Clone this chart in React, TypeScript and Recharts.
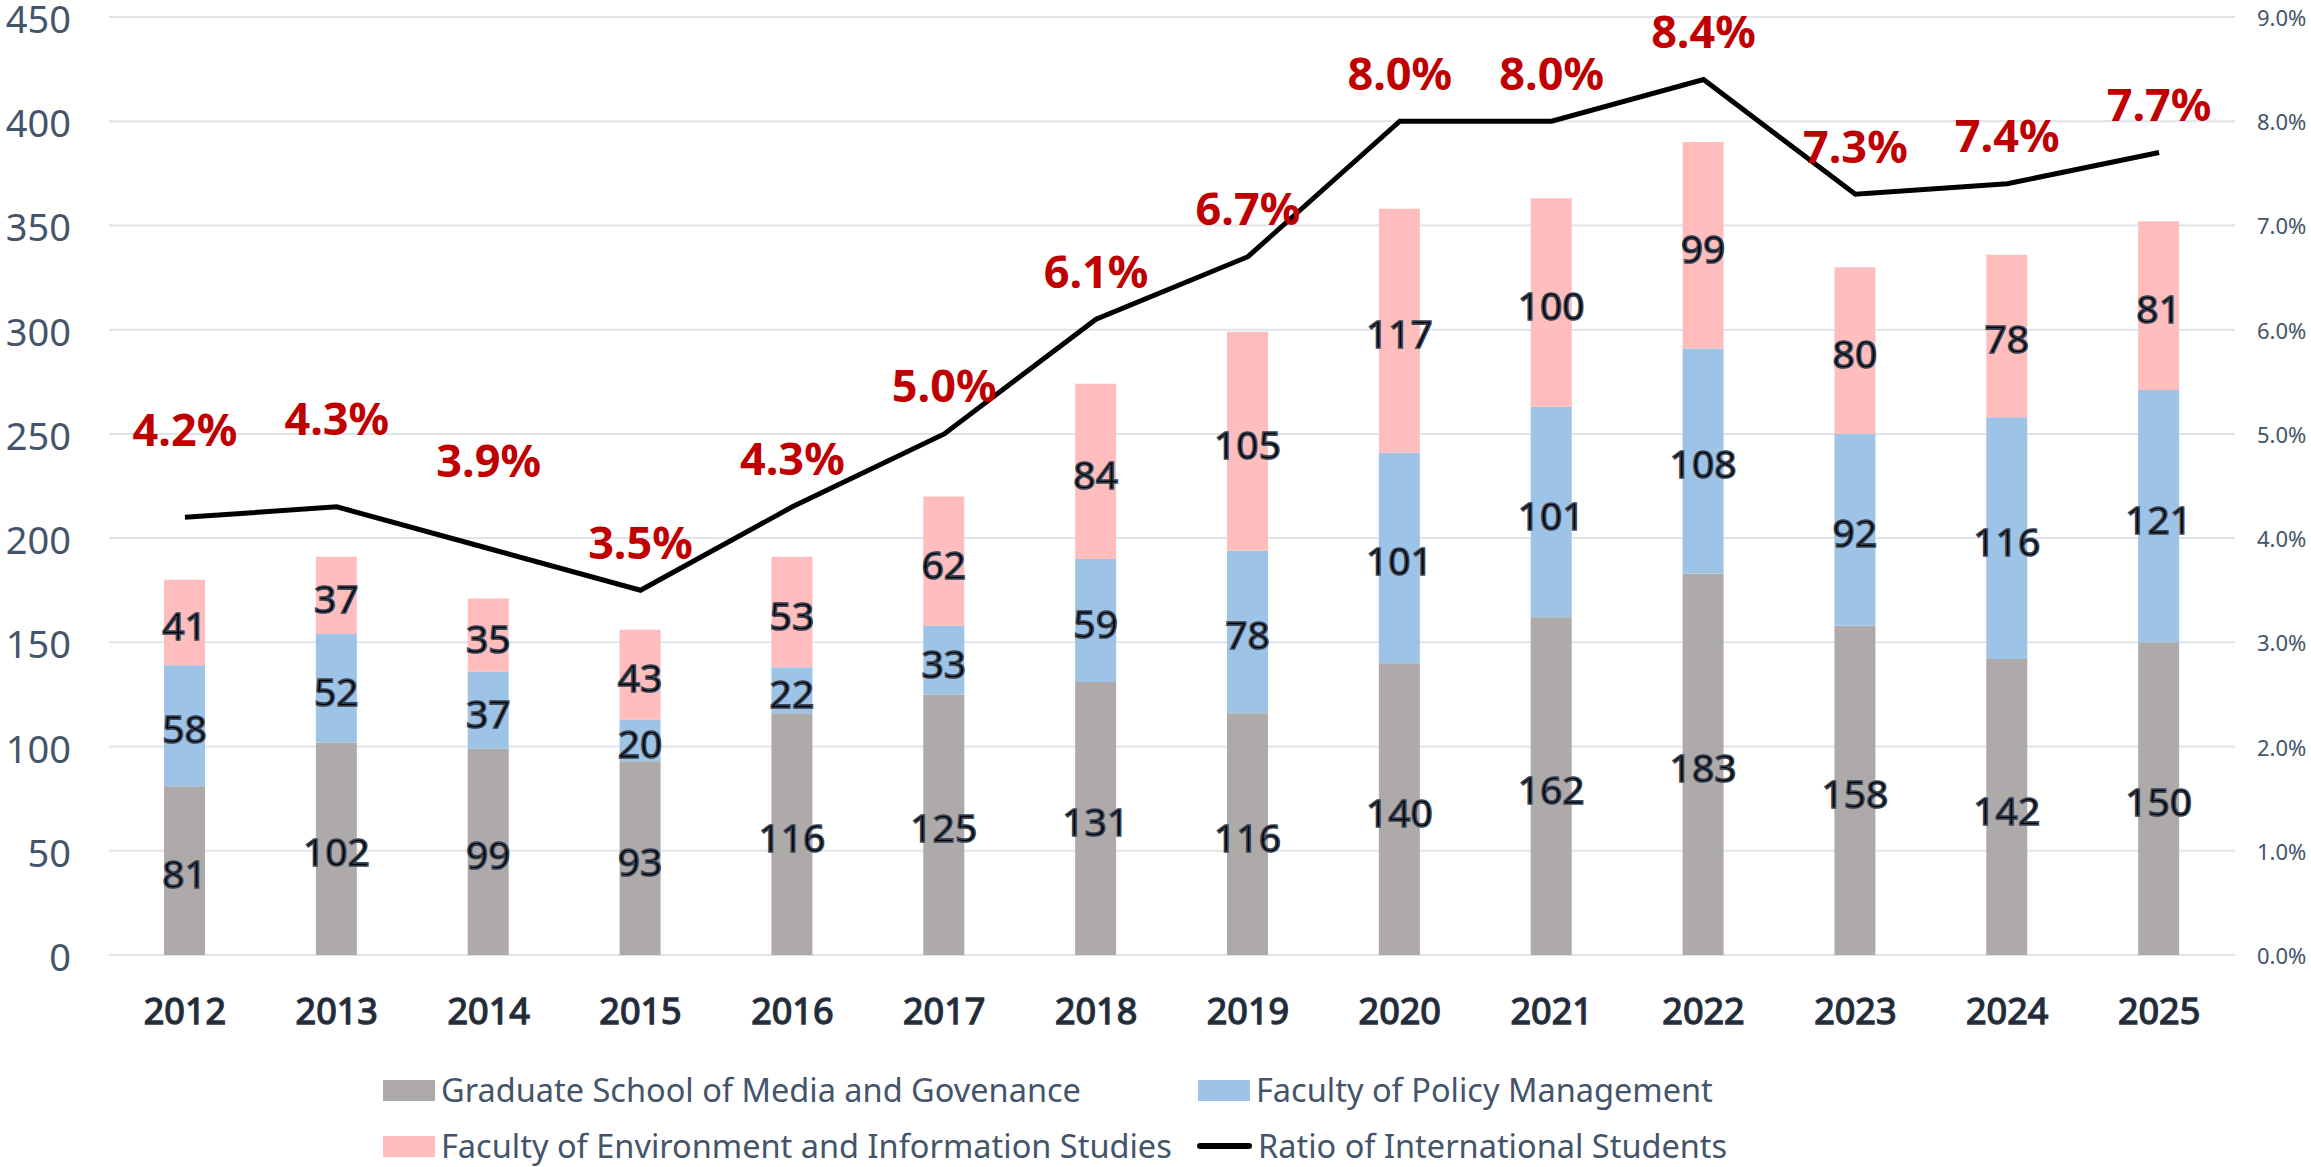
import React from 'react';
import { ComposedChart, Bar, Line, XAxis, YAxis, CartesianGrid, Legend, LabelList } from 'recharts';

const years = ['2012', '2013', '2014', '2015', '2016', '2017', '2018', '2019', '2020', '2021', '2022', '2023', '2024', '2025'];
const mediaGovernance = [81, 102, 99, 93, 116, 125, 131, 116, 140, 162, 183, 158, 142, 150];
const policyManagement = [58, 52, 37, 20, 22, 33, 59, 78, 101, 101, 108, 92, 116, 121];
const envInfoStudies = [41, 37, 35, 43, 53, 62, 84, 105, 117, 100, 99, 80, 78, 81];
const intlRatio = [4.2, 4.3, 3.9, 3.5, 4.3, 5.0, 6.1, 6.7, 8.0, 8.0, 8.4, 7.3, 7.4, 7.7];
const leftTicks = [0, 50, 100, 150, 200, 250, 300, 350, 400, 450];
const rightTicks = [0, 1, 2, 3, 4, 5, 6, 7, 8, 9];

const names = {
  media: 'Graduate School of Media and Govenance',
  policy: 'Faculty of Policy Management',
  env: 'Faculty of Environment and Information Studies',
  ratio: 'Ratio of International Students',
};
const colors = {
  media: '#AEAAAA',
  policy: '#9DC3E6',
  env: '#FFBDBD',
  ratio: '#000000',
};

const data = years.map((y, i) => ({
  year: y,
  media: mediaGovernance[i],
  policy: policyManagement[i],
  env: envInfoStudies[i],
  ratio: intlRatio[i],
}));

const FONT = '"Noto Sans", "Open Sans", sans-serif';
const AXIS_COLOR = '#44546A';

const SegmentLabel = (props: any) => {
  const { x, y, width, height, value } = props;
  return (
    <text
      x={x + width / 2}
      y={y + height / 2 + 2}
      textAnchor="middle"
      dominantBaseline="central"
      fontFamily={FONT}
      fontSize={39}
      fill="#000"
      stroke="#3B4658"
      strokeWidth={1.6}
    >
      {value}
    </text>
  );
};

const RatioLabel = (props: any) => {
  const { x, y, value, index } = props;
  const lift = index < 3 ? 89 : 49;
  return (
    <text
      x={x}
      y={y - lift}
      textAnchor="middle"
      dominantBaseline="central"
      fontFamily={FONT}
      fontWeight="bold"
      fontSize={45}
      fill="#C00000"
    >
      {Number(value).toFixed(1)}%
    </text>
  );
};

const XTick = (props: any) => {
  const { x, y, payload } = props;
  return (
    <text
      x={x}
      y={y + 55}
      textAnchor="middle"
      dominantBaseline="central"
      fontFamily={FONT}
      fontSize={36}
      fill="#1F2733"
      stroke="#2B3442"
      strokeWidth={1.4}
    >
      {payload.value}
    </text>
  );
};

const LeftTick = (props: any) => {
  const { y, payload } = props;
  return (
    <text x={71} y={y + 1} textAnchor="end" dominantBaseline="central" fontFamily={FONT} fontSize={38} fill={AXIS_COLOR}>
      {payload.value}
    </text>
  );
};

const RightTick = (props: any) => {
  const { y, payload } = props;
  return (
    <text x={2257} y={y} textAnchor="start" dominantBaseline="central" fontFamily={FONT} fontSize={22} fill={AXIS_COLOR}>
      {Number(payload.value).toFixed(1)}%
    </text>
  );
};

const legendItems = [
  { key: 'media', kind: 'rect', left: 383, top: 30 },
  { key: 'policy', kind: 'rect', left: 1198, top: 30 },
  { key: 'env', kind: 'rect', left: 383, top: 86 },
  { key: 'ratio', kind: 'line', left: 1197, top: 86 },
] as const;

const LegendContent = () => (
  <div style={{ position: 'relative', width: 2311, height: 107 }}>
    {legendItems.map((it) => (
      <div
        key={it.key}
        style={{
          position: 'absolute',
          left: it.left,
          top: it.top - 22,
          height: 44,
          display: 'flex',
          alignItems: 'center',
          whiteSpace: 'nowrap',
        }}
      >
        {it.kind === 'rect' ? (
          <div style={{ width: 52, height: 21, background: (colors as any)[it.key] }} />
        ) : (
          <div style={{ width: 55, height: 6, borderRadius: 3, background: '#000' }} />
        )}
        <span
          style={{
            marginLeft: 6,
            fontFamily: FONT,
            fontSize: 32.5,
            color: AXIS_COLOR,
            lineHeight: '44px',
          }}
        >
          {(names as any)[it.key]}
        </span>
      </div>
    ))}
  </div>
);

export default function App() {
  return (
    <div style={{ position: 'absolute', left: 0, top: 0, width: 2311, height: 1167, background: '#fff' }}>
      <ComposedChart
        width={2311}
        height={1167}
        data={data}
        margin={{ top: 17, right: 0, left: 0, bottom: 100 }}
        barSize={41}
      >
        <CartesianGrid yAxisId="left" vertical={false} stroke="#DFE3EA" strokeWidth={2} />
        <XAxis
          dataKey="year"
          height={112}
          tickLine={false}
          axisLine={false}
          tickSize={0}
          tickMargin={0}
          interval={0}
          tick={<XTick />}
        />
        <YAxis
          yAxisId="left"
          orientation="left"
          width={109}
          domain={[0, 450]}
          ticks={leftTicks}
          tickLine={false}
          axisLine={false}
          tick={<LeftTick />}
        />
        <YAxis
          yAxisId="right"
          orientation="right"
          width={76}
          domain={[0, 9]}
          ticks={rightTicks}
          tickLine={false}
          axisLine={false}
          tick={<RightTick />}
        />
        <Bar yAxisId="left" dataKey="media" name={names.media} stackId="s" fill={colors.media} isAnimationActive={false}>
          <LabelList dataKey="media" content={<SegmentLabel />} />
        </Bar>
        <Bar yAxisId="left" dataKey="policy" name={names.policy} stackId="s" fill={colors.policy} isAnimationActive={false}>
          <LabelList dataKey="policy" content={<SegmentLabel />} />
        </Bar>
        <Bar yAxisId="left" dataKey="env" name={names.env} stackId="s" fill={colors.env} isAnimationActive={false}>
          <LabelList dataKey="env" content={<SegmentLabel />} />
        </Bar>
        <Line
          yAxisId="right"
          dataKey="ratio"
          name={names.ratio}
          type="linear"
          stroke={colors.ratio}
          strokeWidth={5}
          dot={false}
          activeDot={false}
          isAnimationActive={false}
        >
          <LabelList dataKey="ratio" content={<RatioLabel />} />
        </Line>
        <Legend
          layout="horizontal"
          verticalAlign="middle"
          align="center"
          wrapperStyle={{ top: 1060, left: 0, width: 2311, height: 107 }}
          content={<LegendContent />}
        />
      </ComposedChart>
    </div>
  );
}
